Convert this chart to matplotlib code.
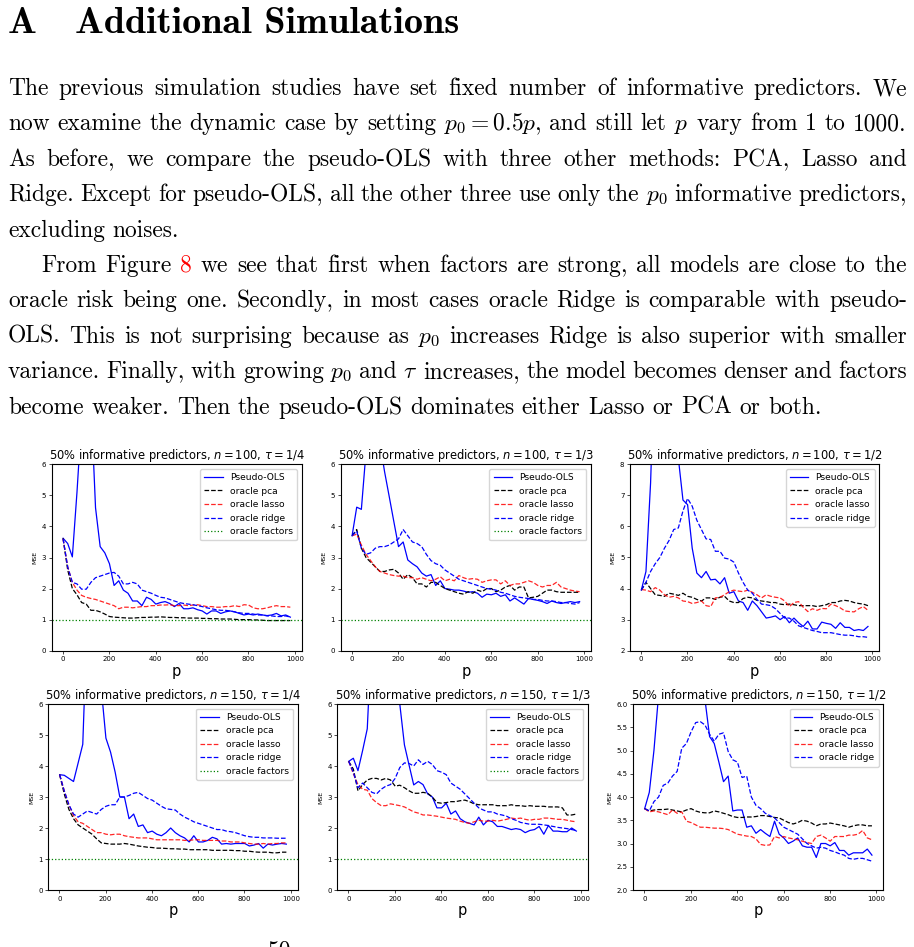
import matplotlib
matplotlib.use("Agg")
import matplotlib.pyplot as plt
import numpy as np

# ---------------- data ----------------
p_grid = list(range(1, 1000, 20))  # p = 1, 21, ..., 981

# n = 100, tau = 1/4
pols_n100_t4 = [3.62, 3.45, 3.02, 5.1, 7.5, 12.0, 8.1, 4.6, 3.35, 3.15,
                2.8, 2.1, 2.25, 1.95, 1.85, 1.6, 1.6, 1.45, 1.72, 1.65,
                1.5, 1.55, 1.58, 1.52, 1.42, 1.52, 1.35, 1.35, 1.38, 1.32,
                1.28, 1.18, 1.28, 1.28, 1.2, 1.25, 1.28, 1.25, 1.2, 1.15,
                1.18, 1.15, 1.18, 1.15, 1.13, 1.15, 1.2, 1.12, 1.15, 1.08]
pca_n100_t4 = [3.62, 2.6, 2.0, 1.8, 1.55, 1.5, 1.3, 1.3, 1.25, 1.18,
               1.1, 1.08, 1.07, 1.06, 1.05, 1.05, 1.06, 1.07, 1.07, 1.08,
               1.08, 1.09, 1.08, 1.07, 1.07, 1.06, 1.06, 1.05, 1.05, 1.05,
               1.04, 1.04, 1.03, 1.03, 1.02, 1.02, 1.02, 1.01, 1.0, 1.0,
               1.0, 0.99, 0.99, 0.98, 0.97, 0.97, 0.97, 0.97, 0.97, 0.97]
lasso_n100_t4 = [3.6, 2.7, 2.2, 1.95, 1.78, 1.72, 1.68, 1.65, 1.6, 1.55,
                 1.5, 1.45, 1.35, 1.4, 1.4, 1.38, 1.4, 1.42, 1.42, 1.45,
                 1.45, 1.47, 1.47, 1.48, 1.45, 1.45, 1.47, 1.45, 1.47, 1.48,
                 1.45, 1.42, 1.42, 1.4, 1.4, 1.42, 1.42, 1.45, 1.42, 1.48,
                 1.47, 1.38, 1.35, 1.35, 1.38, 1.42, 1.45, 1.42, 1.42, 1.4]
ridge_n100_t4 = [3.6, 2.7, 2.2, 2.15, 1.98, 1.98, 2.2, 2.35, 2.4, 2.45,
                 2.5, 2.52, 2.4, 2.15, 2.15, 2.2, 2.15, 1.95, 1.9, 1.85,
                 1.78, 1.72, 1.7, 1.65, 1.6, 1.55, 1.52, 1.5, 1.48, 1.45,
                 1.42, 1.38, 1.35, 1.32, 1.3, 1.3, 1.28, 1.25, 1.22, 1.2,
                 1.2, 1.18, 1.15, 1.15, 1.12, 1.12, 1.1, 1.1, 1.12, 1.08]

# n = 100, tau = 1/3
pols_n100_t3 = [3.7, 4.62, 4.55, 6.4, 10.0, 12.0, 6.7, 5.76, 4.96, 4.15,
                3.35, 3.5, 2.92, 2.8, 2.7, 2.5, 2.4, 2.45, 2.1, 2.25,
                2.0, 1.98, 1.95, 1.95, 1.92, 1.88, 1.9, 1.85, 1.72, 1.82,
                1.8, 1.85, 1.75, 1.8, 1.6, 1.7, 1.6, 1.5, 1.68, 1.65,
                1.62, 1.58, 1.52, 1.6, 1.55, 1.52, 1.55, 1.58, 1.55, 1.58]
pca_n100_t3 = [3.7, 3.9, 3.3, 3.0, 2.85, 2.7, 2.55, 2.55, 2.6, 2.62,
               2.5, 2.3, 2.45, 2.35, 2.15, 2.15, 2.05, 2.2, 2.2, 2.1,
               2.0, 1.95, 1.9, 1.85, 1.82, 1.9, 1.85, 1.95, 1.9, 2.0,
               2.0, 1.9, 1.95, 2.05, 2.1, 1.95, 2.05, 2.05, 1.7, 1.72,
               1.75, 1.85, 1.95, 1.95, 1.9, 1.88, 1.88, 1.88, 1.88, 1.88]
lasso_n100_t3 = [3.7, 3.75, 3.4, 3.1, 2.9, 2.7, 2.55, 2.5, 2.45, 2.42,
                 2.4, 2.4, 2.35, 2.35, 2.3, 2.35, 2.3, 2.25, 2.3, 2.38,
                 2.25, 2.3, 2.25, 2.42, 2.35, 2.3, 2.32, 2.3, 2.2, 2.25,
                 2.28, 2.28, 2.15, 2.25, 2.1, 2.15, 2.15, 2.2, 2.25, 2.2,
                 2.1, 2.05, 2.1, 2.1, 2.2, 2.05, 2.0, 1.95, 1.92, 1.9]
ridge_n100_t3 = [3.7, 3.85, 3.3, 3.1, 3.15, 3.3, 3.35, 3.35, 3.4, 3.5,
                 3.6, 3.9, 3.7, 3.5, 3.45, 3.35, 3.1, 2.9, 2.8, 2.75,
                 2.6, 2.5, 2.4, 2.3, 2.25, 2.2, 2.15, 2.1, 2.05, 2.0,
                 1.98, 1.95, 1.88, 1.85, 1.8, 1.75, 1.72, 1.7, 1.68, 1.65,
                 1.65, 1.62, 1.6, 1.6, 1.58, 1.55, 1.55, 1.52, 1.5, 1.55]

# n = 100, tau = 1/2
pols_n100_t2 = [3.95, 4.55, 7.4, 12.0, 16.0, 18.0, 15.0, 11.0, 8.2, 6.85,
                6.7, 5.3, 4.5, 4.35, 4.55, 4.28, 4.3, 4.15, 4.35, 3.85,
                3.9, 3.6, 3.55, 3.3, 3.6, 3.45, 3.25, 3.05, 3.08, 3.12,
                3.0, 3.1, 2.9, 3.05, 2.9, 2.78, 2.95, 2.7, 2.7, 2.92,
                2.88, 2.85, 2.72, 2.9, 2.75, 2.75, 2.65, 2.68, 2.65, 2.78]
pca_n100_t2 = [3.95, 4.2, 4.0, 3.8, 3.78, 3.75, 3.85, 3.82, 3.78, 3.85,
               3.75, 3.72, 3.65, 3.6, 3.7, 3.7, 3.65, 3.72, 3.75, 3.6,
               3.55, 3.55, 3.68, 3.72, 3.7, 3.62, 3.6, 3.58, 3.55, 3.55,
               3.5, 3.48, 3.5, 3.48, 3.45, 3.45, 3.45, 3.45, 3.42, 3.45,
               3.48, 3.55, 3.55, 3.6, 3.62, 3.6, 3.55, 3.52, 3.5, 3.45]
lasso_n100_t2 = [3.97, 3.95, 3.9, 4.03, 3.95, 3.8, 3.72, 3.75, 3.7, 3.6,
                 3.58, 3.52, 3.55, 3.6, 3.45, 3.42, 3.7, 3.72, 3.8, 3.9,
                 3.95, 3.92, 3.9, 3.95, 3.88, 3.8, 3.7, 3.8, 3.75, 3.72,
                 3.7, 3.6, 3.42, 3.55, 3.58, 3.4, 3.26, 3.35, 3.3, 3.36,
                 3.35, 3.5, 3.45, 3.38, 3.28, 3.26, 3.25, 3.35, 3.42, 3.3]
ridge_n100_t2 = [3.95, 4.2, 4.55, 4.8, 5.0, 5.3, 5.55, 5.9, 5.95, 6.5,
                 6.9, 6.65, 6.2, 5.9, 5.6, 5.58, 5.2, 5.2, 4.98, 4.95,
                 4.85, 4.5, 4.2, 3.95, 3.85, 3.65, 3.5, 3.48, 3.45, 3.35,
                 3.2, 3.05, 3.05, 2.95, 2.8, 2.75, 2.7, 2.65, 2.62, 2.58,
                 2.58, 2.58, 2.55, 2.52, 2.5, 2.5, 2.48, 2.45, 2.45, 2.43]

# n = 150, tau = 1/4
pols_n150_t4 = [3.72, 3.7, 3.6, 3.5, 4.1, 4.7, 9.0, 14.0, 11.0, 6.5,
                4.9, 4.45, 3.8, 3.0, 3.0, 2.3, 2.45, 2.05, 2.1, 1.85,
                1.9, 1.8, 1.75, 1.85, 2.0, 1.85, 1.75, 1.68, 1.55, 1.75,
                1.55, 1.55, 1.6, 1.7, 1.65, 1.48, 1.5, 1.48, 1.5, 1.5,
                1.5, 1.42, 1.45, 1.5, 1.35, 1.48, 1.45, 1.48, 1.5, 1.48]
pca_n150_t4 = [3.72, 3.1, 2.6, 2.3, 2.1, 2.0, 1.9, 1.8, 1.65, 1.52,
               1.5, 1.48, 1.48, 1.48, 1.5, 1.48, 1.45, 1.42, 1.4, 1.38,
               1.37, 1.35, 1.35, 1.34, 1.33, 1.33, 1.32, 1.32, 1.3, 1.3,
               1.3, 1.3, 1.3, 1.28, 1.28, 1.28, 1.28, 1.28, 1.27, 1.27,
               1.25, 1.25, 1.23, 1.22, 1.22, 1.22, 1.2, 1.2, 1.22, 1.22]
lasso_n150_t4 = [3.72, 3.2, 2.75, 2.4, 2.2, 2.15, 2.05, 1.95, 1.85, 1.85,
                 1.8, 1.78, 1.8, 1.8, 1.75, 1.72, 1.7, 1.68, 1.68, 1.68,
                 1.65, 1.62, 1.62, 1.62, 1.62, 1.62, 1.62, 1.6, 1.6, 1.62,
                 1.62, 1.6, 1.6, 1.6, 1.6, 1.58, 1.58, 1.55, 1.55, 1.55,
                 1.52, 1.5, 1.48, 1.48, 1.5, 1.48, 1.5, 1.5, 1.52, 1.52]
ridge_n150_t4 = [3.72, 3.2, 2.75, 2.45, 2.35, 2.45, 2.55, 2.5, 2.45, 2.6,
                 2.7, 2.75, 2.75, 3.0, 3.0, 3.05, 3.12, 3.15, 3.05, 2.95,
                 2.9, 2.8, 2.7, 2.62, 2.6, 2.58, 2.45, 2.35, 2.28, 2.2,
                 2.15, 2.1, 2.05, 2.0, 1.95, 1.95, 1.9, 1.88, 1.85, 1.8,
                 1.75, 1.72, 1.7, 1.7, 1.68, 1.68, 1.68, 1.67, 1.67, 1.67]

# n = 150, tau = 1/3
pols_n150_t3 = [4.15, 4.25, 3.85, 4.5, 5.2, 8.4, 14.0, 20.0, 18.0, 14.0,
                9.0, 6.0, 4.68, 4.03, 3.39, 3.5, 3.4, 3.1, 3.0, 2.65,
                2.65, 2.8, 2.45, 2.55, 2.3, 2.2, 2.15, 2.1, 2.35, 2.1,
                2.25, 2.2, 2.05, 2.05, 2.0, 1.95, 1.98, 1.95, 1.85, 1.92,
                1.95, 2.05, 1.8, 2.08, 1.9, 1.9, 1.88, 1.88, 2.0, 1.9]
pca_n150_t3 = [4.15, 3.9, 3.2, 3.4, 3.55, 3.6, 3.6, 3.55, 3.6, 3.55,
               3.35, 3.38, 3.3, 3.2, 3.12, 3.12, 3.15, 3.12, 3.0, 2.82,
               2.8, 2.82, 2.85, 2.85, 2.88, 2.9, 2.85, 2.78, 2.75, 2.75,
               2.75, 2.75, 2.72, 2.72, 2.72, 2.75, 2.72, 2.72, 2.7, 2.72,
               2.7, 2.7, 2.7, 2.68, 2.68, 2.68, 2.65, 2.42, 2.42, 2.45]
lasso_n150_t3 = [4.15, 3.75, 3.4, 3.25, 3.22, 2.95, 2.82, 2.72, 2.72, 2.78,
                 2.75, 2.72, 2.68, 2.6, 2.52, 2.48, 2.42, 2.42, 2.4, 2.38,
                 2.35, 2.32, 2.3, 2.28, 2.22, 2.18, 2.15, 2.2, 2.25, 2.22,
                 2.22, 2.25, 2.22, 2.25, 2.28, 2.32, 2.3, 2.32, 2.28, 2.25,
                 2.28, 2.28, 2.32, 2.32, 2.3, 2.28, 2.28, 2.25, 2.22, 2.2]
ridge_n150_t3 = [4.15, 3.8, 3.3, 3.45, 3.3, 3.15, 3.1, 3.25, 3.35, 3.4,
                 3.6, 3.95, 4.1, 4.08, 4.0, 4.2, 4.05, 4.15, 4.05, 3.85,
                 3.8, 3.72, 3.45, 3.35, 3.25, 3.1, 2.95, 2.8, 2.65, 2.58,
                 2.52, 2.52, 2.45, 2.42, 2.38, 2.3, 2.25, 2.18, 2.15, 2.12,
                 2.12, 2.12, 2.1, 2.08, 2.05, 2.02, 2.0, 1.98, 1.95, 1.92]

# n = 150, tau = 1/2
pols_n150_t2 = [3.75, 4.1, 5.0, 6.2, 9.0, 14.0, 18.0, 20.0, 18.0, 15.0,
                12.0, 9.0, 7.5, 6.1, 5.3, 5.15, 4.75, 4.33, 4.45, 3.7,
                3.72, 3.72, 3.35, 3.38, 3.22, 3.3, 3.22, 3.15, 3.48, 3.2,
                3.12, 3.0, 3.05, 3.12, 2.95, 2.92, 2.92, 2.7, 3.0, 3.0,
                2.95, 3.02, 2.85, 2.85, 2.75, 2.8, 2.8, 2.8, 2.88, 2.75]
pca_n150_t2 = [3.75, 3.7, 3.72, 3.73, 3.73, 3.74, 3.72, 3.7, 3.68, 3.72,
               3.75, 3.7, 3.67, 3.66, 3.66, 3.7, 3.68, 3.65, 3.62, 3.58,
               3.56, 3.56, 3.57, 3.57, 3.58, 3.6, 3.6, 3.58, 3.56, 3.55,
               3.5, 3.45, 3.42, 3.45, 3.5, 3.48, 3.44, 3.38, 3.42, 3.42,
               3.44, 3.42, 3.4, 3.38, 3.35, 3.38, 3.4, 3.4, 3.38, 3.38]
lasso_n150_t2 = [3.75, 3.68, 3.7, 3.68, 3.65, 3.62, 3.72, 3.65, 3.68, 3.48,
                 3.45, 3.4, 3.35, 3.35, 3.34, 3.33, 3.33, 3.32, 3.3, 3.25,
                 3.2, 3.18, 3.16, 3.15, 3.1, 2.98, 2.96, 2.97, 3.15, 3.12,
                 3.15, 3.12, 3.1, 3.08, 3.05, 3.02, 3.0, 3.15, 3.18, 3.12,
                 3.05, 3.15, 3.15, 3.15, 3.18, 3.18, 3.2, 3.28, 3.12, 3.08]
ridge_n150_t2 = [3.75, 3.7, 3.9, 4.0, 4.25, 4.3, 4.45, 4.55, 5.05, 5.15,
                 5.4, 5.6, 5.62, 5.55, 5.35, 5.2, 5.35, 5.38, 4.98, 4.8,
                 4.75, 4.42, 4.45, 4.0, 3.82, 3.75, 3.65, 3.6, 3.55, 3.45,
                 3.35, 3.3, 3.25, 3.2, 3.1, 3.0, 2.95, 2.9, 2.92, 2.9,
                 2.85, 2.82, 2.78, 2.75, 2.68, 2.66, 2.68, 2.68, 2.65, 2.62]

oracle_factor_level = 1.0

panel_titles = [
    r"50% informative predictors, $n = 100$, $\tau = 1/4$",
    r"50% informative predictors, $n = 100$, $\tau = 1/3$",
    r"50% informative predictors, $n = 100$, $\tau = 1/2$",
    r"50% informative predictors, $n = 150$, $\tau = 1/4$",
    r"50% informative predictors, $n = 150$, $\tau = 1/3$",
    r"50% informative predictors, $n = 150$, $\tau = 1/2$",
]
panel_series = [
    (pols_n100_t4, pca_n100_t4, lasso_n100_t4, ridge_n100_t4),
    (pols_n100_t3, pca_n100_t3, lasso_n100_t3, ridge_n100_t3),
    (pols_n100_t2, pca_n100_t2, lasso_n100_t2, ridge_n100_t2),
    (pols_n150_t4, pca_n150_t4, lasso_n150_t4, ridge_n150_t4),
    (pols_n150_t3, pca_n150_t3, lasso_n150_t3, ridge_n150_t3),
    (pols_n150_t2, pca_n150_t2, lasso_n150_t2, ridge_n150_t2),
]
panel_has_factors = [True, True, False, True, True, False]
panel_ylims = [(0, 6), (0, 6), (2, 8), (0, 6), (0, 6), (2, 6)]
panel_yticks = [[0, 1, 2, 3, 4, 5, 6], [0, 1, 2, 3, 4, 5, 6], [2, 3, 4, 5, 6, 7, 8],
                [0, 1, 2, 3, 4, 5, 6], [0, 1, 2, 3, 4, 5, 6],
                [2.0, 2.5, 3.0, 3.5, 4.0, 4.5, 5.0, 5.5, 6.0]]
x_ticks = [0, 200, 400, 600, 800, 1000]

body_lines = [
    "The previous simulation studies have set fixed number of informative predictors.  We",
    "now examine the dynamic case by setting $p_0=0.5p$, and still let $p$ vary from 1 to 1000.",
    "As before, we compare the pseudo-OLS with three other methods:  PCA, Lasso and",
    "Ridge. Except for pseudo-OLS, all the other three use only the $p_0$ informative predictors,",
    "excluding noises.",
    "From Figure 8 we see that first when factors are strong, all models are close to the",
    "oracle risk being one.  Secondly, in most cases oracle Ridge is comparable with pseudo-",
    "OLS. This is not surprising because as $p_0$ increases Ridge is also superior with smaller",
    "variance. Finally, with growing $p_0$ and $\\tau$ increases, the model becomes denser and factors",
    "become weaker. Then the pseudo-OLS dominates either Lasso or PCA or both.",
]
line_justify = [True, True, True, True, False, True, True, True, True, False]
line_indent = [0, 0, 0, 0, 0, 33, 0, 0, 0, 0]

# ---------------- figure ----------------
W, H = 914, 947
fig = plt.figure(figsize=(W / 100, H / 100), dpi=100)
renderer = fig.canvas.get_renderer()


def fx(x):
    return x / W


def fy(y):
    return 1 - y / H


BODY_FS = 16.9
SERIF = "cmr10"

# heading
fig.text(fx(8), fy(33), "A", family="cmb10", fontsize=27.5, va="baseline", ha="left")
fig.text(fx(75), fy(33), "Additional Simulations", family="cmb10", fontsize=27.5,
         va="baseline", ha="left")

# body text, word-by-word justified
X0, X1 = 8, 907
base0, step = 95, 35.4
for i, line in enumerate(body_lines):
    y = base0 + step * i
    words = line.split()
    arts, widths = [], []
    for w in words:
        col = "red" if (i == 5 and w == "8") else "black"
        t = fig.text(0, 0, w, family=SERIF, fontsize=BODY_FS, color=col,
                     math_fontfamily="cm", va="baseline", ha="left")
        widths.append(t.get_window_extent(renderer).width)
        arts.append(t)
    start = X0 + line_indent[i]
    if line_justify[i]:
        gap = (X1 - start - sum(widths)) / (len(words) - 1)
    else:
        gap = BODY_FS * 100 / 72 * 0.33
    x = start
    for t, w in zip(arts, widths):
        t.set_position((fx(x), fy(y)))
        x += w + gap

# page number (cut at the bottom edge, as on the page)
fig.text(fx(280), fy(957), "50", family=SERIF, fontsize=BODY_FS, ha="center", va="baseline")

# ---------------- panels ----------------
axes_px = [
    (51.7, 301.7, 464.3, 650.7),
    (340.7, 591.0, 464.3, 650.7),
    (630.0, 879.3, 464.3, 650.7),
    (48.3, 297.7, 704.0, 890.0),
    (337.3, 587.7, 704.0, 890.0),
    (633.3, 883.3, 704.0, 890.0),
]

for k in range(6):
    l, r, t, b = axes_px[k]
    ax = fig.add_axes([fx(l), fy(b), (r - l) / W, (b - t) / H])
    pols, pca, lasso, ridge = panel_series[k]
    lw = 0.9
    ax.plot(p_grid, pols, color="blue", lw=lw, label="Pseudo-OLS")
    ax.plot(p_grid, pca, color="black", ls="--", lw=lw, label="oracle pca")
    ax.plot(p_grid, lasso, color="red", ls="--", lw=lw, alpha=0.85, label="oracle lasso")
    ax.plot(p_grid, ridge, color="blue", ls="--", lw=lw, label="oracle ridge")
    if panel_has_factors[k]:
        ax.axhline(oracle_factor_level, color="green", ls=":", lw=lw, label="oracle factors")
    ax.set_xlim(-48, 1030)
    ax.set_ylim(*panel_ylims[k])
    ax.set_xticks(x_ticks)
    ax.set_yticks(panel_yticks[k])
    if k == 5:
        ax.set_yticklabels([f"{v:.1f}" for v in panel_yticks[k]])
    ax.tick_params(labelsize=5, length=2, width=0.5, pad=2)
    for s in ax.spines.values():
        s.set_linewidth(0.8)
    ax.set_title(panel_titles[k], fontsize=8.3, pad=2.5)
    ax.set_xlabel("p", fontsize=10.5, labelpad=1)
    ax.set_ylabel("MSE", fontsize=4.5, labelpad=3)
    ax.legend(loc="upper right", fontsize=6.6, handlelength=2.0, borderpad=0.45,
              labelspacing=0.5, handletextpad=0.8, framealpha=0.8,
              edgecolor="#cccccc", fancybox=True)

fig.savefig("out.png", dpi=100)
